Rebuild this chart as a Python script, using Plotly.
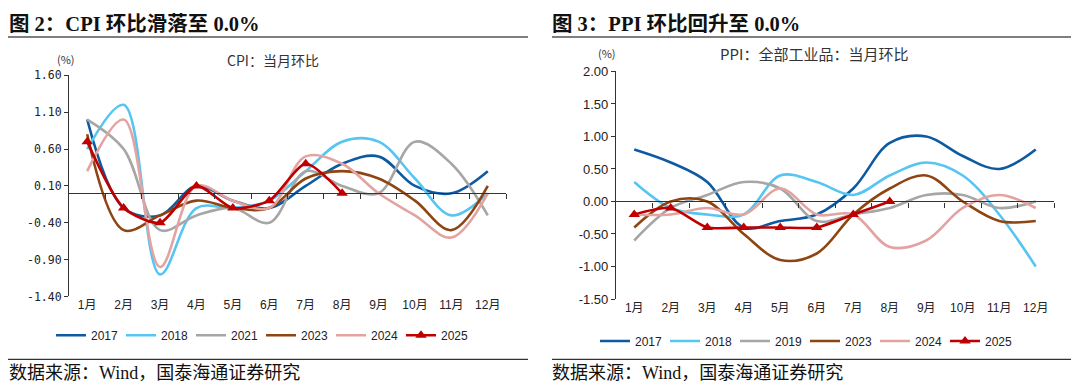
import plotly.graph_objects as go

months = ["1月", "2月", "3月", "4月", "5月", "6月", "7月", "8月", "9月", "10月", "11月", "12月"]

# CPI month-on-month (%)
cpi_2017 = [1.0, -0.2, -0.3, 0.1, -0.1, -0.2, 0.1, 0.4, 0.5, 0.1, 0.0, 0.3]
cpi_2018 = [0.6, 1.2, -1.1, -0.2, -0.2, -0.1, 0.3, 0.7, 0.7, 0.2, -0.3, 0.0]
cpi_2021 = [1.0, 0.6, -0.5, -0.3, -0.2, -0.4, 0.3, 0.1, 0.0, 0.7, 0.4, -0.3]
cpi_2023 = [0.8, -0.5, -0.3, -0.1, -0.2, -0.2, 0.2, 0.3, 0.2, -0.1, -0.5, 0.1]
cpi_2024 = [0.3, 1.0, -1.0, 0.1, -0.1, -0.2, 0.5, 0.4, 0.0, -0.3, -0.6, 0.0]
cpi_2025 = [0.7, -0.2, -0.4, 0.1, -0.2, -0.1, 0.4, 0.0]

# PPI month-on-month (%)
ppi_2017 = [0.8, 0.6, 0.3, -0.4, -0.3, -0.2, 0.2, 0.9, 1.0, 0.7, 0.5, 0.8]
ppi_2018 = [0.3, -0.1, -0.2, -0.2, 0.4, 0.3, 0.1, 0.4, 0.6, 0.4, -0.2, -1.0]
ppi_2019 = [-0.6, -0.1, 0.1, 0.3, 0.2, -0.3, -0.2, -0.1, 0.1, 0.1, -0.1, 0.0]
ppi_2023 = [-0.4, 0.0, 0.0, -0.5, -0.9, -0.8, -0.2, 0.2, 0.4, 0.0, -0.3, -0.3]
ppi_2024 = [-0.2, -0.2, -0.1, -0.2, 0.2, -0.2, -0.2, -0.7, -0.6, -0.1, 0.1, -0.1]
ppi_2025 = [-0.2, -0.1, -0.4, -0.4, -0.4, -0.4, -0.2, 0.0]

cpi_ticks = [-1.4, -0.9, -0.4, 0.1, 0.6, 1.1, 1.6]
cpi_ticktext = ["-1.40", "-0.90", "-0.40", "0.10", "0.60", "1.10", "1.60"]
ppi_ticks = [-1.5, -1.0, -0.5, 0.0, 0.5, 1.0, 1.5, 2.0]
ppi_ticktext = ["-1.50", "-1.00", "-0.50", "0.00", "0.50", "1.00", "1.50", "2.00"]

C17 = "#0D5AA2"
C18 = "#56C5F2"
CGR = "#A6A6A6"
CBR = "#8E4512"
CPK = "#E3A3A1"
CRD = "#C00000"

W, H = 1080, 392
OFF = 8  # page body margin compensation
CJK = "Noto Sans CJK SC"
SANS = "Liberation Sans, Arial, " + CJK
SERIF = "Liberation Serif, Times New Roman, " + CJK

def px_x(x):
    return (x - OFF) / W

def px_y(y):
    return 1 - (y - OFF) / H

# plot domains (screen pixel -> paper)
L_dom_x = [px_x(69), px_x(506)]
L_dom_y = [px_y(300.7), px_y(70.7)]
R_dom_x = [px_x(616), px_x(1054)]
R_dom_y = [px_y(303.3), px_y(66.7)]

L_range = [-1.4, 1.6]
R_range = [-1.5, 2.0]

def zero_pos(dom, rng):
    return dom[0] + (0 - rng[0]) / (rng[1] - rng[0]) * (dom[1] - dom[0])

fig = go.Figure()

def add(x, y, name, color, xa, ya, legend, marker=False):
    kw = dict(
        x=x, y=y, name=name, xaxis=xa, yaxis=ya, legend=legend,
        line=dict(color=color, width=2.6, shape="spline", smoothing=1.0 if not marker else 0.7),
        mode="lines+markers" if marker else "lines",
    )
    if marker:
        kw["marker"] = dict(symbol="triangle-up", size=10, color=color)
    fig.add_trace(go.Scatter(**kw))

add(months, cpi_2017, "2017", C17, "x", "y", "legend")
add(months, cpi_2018, "2018", C18, "x", "y", "legend")
add(months, cpi_2021, "2021", CGR, "x", "y", "legend")
add(months, cpi_2023, "2023", CBR, "x", "y", "legend")
add(months, cpi_2024, "2024", CPK, "x", "y", "legend")
add(months[:len(cpi_2025)], cpi_2025, "2025", CRD, "x", "y", "legend", marker=True)

add(months, ppi_2017, "2017", C17, "x2", "y2", "legend2")
add(months, ppi_2018, "2018", C18, "x2", "y2", "legend2")
add(months, ppi_2019, "2019", CGR, "x2", "y2", "legend2")
add(months, ppi_2023, "2023", CBR, "x2", "y2", "legend2")
add(months, ppi_2024, "2024", CPK, "x2", "y2", "legend2")
add(months[:len(ppi_2025)], ppi_2025, "2025", CRD, "x2", "y2", "legend2", marker=True)

# invisible traces to hold the zero-line axes
fig.add_trace(go.Scatter(x=[0], y=[0], xaxis="x3", yaxis="y", mode="markers",
                         marker=dict(opacity=0), showlegend=False, hoverinfo="skip"))
fig.add_trace(go.Scatter(x=[0], y=[0], xaxis="x4", yaxis="y2", mode="markers",
                         marker=dict(opacity=0), showlegend=False, hoverinfo="skip"))

xcommon = dict(type="category", range=[-0.5, 11.5], showline=False, ticks="",
               showgrid=False, zeroline=False,
               tickfont=dict(family=SANS, size=12, color="#222"))
zero_common = dict(range=[-0.5, 11.5], showline=True, linecolor="#333", linewidth=1.2,
                   ticks="outside", ticklen=5, tickcolor="#333", tickwidth=1,
                   tickvals=[x + 0.5 for x in range(12)], showticklabels=False,
                   showgrid=False, zeroline=False, side="bottom")

legend_common = dict(orientation="h", xanchor="left", yanchor="middle",
                     itemwidth=30, entrywidth=25, entrywidthmode="pixels",
                     tracegroupgap=0, bgcolor="rgba(0,0,0,0)",
                     font=dict(family=SANS, size=12, color="#222"))

fig.update_layout(
    width=W, height=H,
    margin=dict(l=0, r=0, t=0, b=0),
    paper_bgcolor="white", plot_bgcolor="rgba(0,0,0,0)",
    showlegend=True,
    xaxis=dict(domain=L_dom_x, anchor="y", **xcommon),
    yaxis=dict(domain=L_dom_y, anchor="x", range=L_range, tickvals=cpi_ticks,
               ticktext=cpi_ticktext, showline=True, linecolor="#333", linewidth=1.2,
               ticks="outside", ticklen=4, tickcolor="#333", showgrid=False, zeroline=False,
               tickfont=dict(family="DejaVu Sans Mono", size=11.5, color="#222")),
    xaxis2=dict(domain=R_dom_x, anchor="y2", **xcommon),
    yaxis2=dict(domain=R_dom_y, anchor="x2", range=R_range, tickvals=ppi_ticks,
                ticktext=ppi_ticktext, showline=True, linecolor="#333", linewidth=1.2,
                ticks="outside", ticklen=4, tickcolor="#333", showgrid=False, zeroline=False,
                tickfont=dict(family=SANS, size=13, color="#222")),
    xaxis3=dict(domain=L_dom_x, anchor="free", overlaying="x",
                position=zero_pos(L_dom_y, L_range), **zero_common),
    xaxis4=dict(domain=R_dom_x, anchor="free", overlaying="x2",
                position=zero_pos(R_dom_y, R_range), **zero_common),
    legend=dict(x=px_x(51), y=px_y(341), **legend_common),
    legend2=dict(x=px_x(595), y=px_y(347), **legend_common),
)

shapes = [
    dict(type="line", xref="paper", yref="paper", x0=px_x(8), x1=px_x(528), y0=px_y(31), y1=px_y(31),
         line=dict(color="#7F7F7F", width=2)),
    dict(type="line", xref="paper", yref="paper", x0=px_x(552), x1=px_x(1071), y0=px_y(31), y1=px_y(31),
         line=dict(color="#7F7F7F", width=2)),
    dict(type="line", xref="paper", yref="paper", x0=px_x(8), x1=px_x(528), y0=px_y(366), y1=px_y(366),
         line=dict(color="#333333", width=1.3)),
    dict(type="line", xref="paper", yref="paper", x0=px_x(552), x1=px_x(1071), y0=px_y(366), y1=px_y(366),
         line=dict(color="#333333", width=1.3)),
]
fig.update_layout(shapes=shapes)

def ann(text, x, y, size, family, bold=False, xanchor="left", color="#111"):
    if bold:
        text = "<b>" + text + "</b>"
    return dict(text=text, x=px_x(x), y=px_y(y), xref="paper", yref="paper",
                xanchor=xanchor, yanchor="middle", showarrow=False,
                font=dict(size=size, family=family, color=color))

annotations = [
    ann("图 2：CPI 环比滑落至 0.0%", 7, 17, 20.5, SERIF, bold=True),
    ann("图 3：PPI 环比回升至 0.0%", 550, 17, 20.5, SERIF, bold=True),
    ann("(%)", 66, 54, 11, CJK, xanchor="center", color="#333"),
    ann("CPI：当月环比", 273, 55, 14, CJK, xanchor="center", color="#333"),
    ann("(%)", 607, 48, 11, CJK, xanchor="center", color="#333"),
    ann("PPI：全部工业品：当月环比", 814, 48, 15, CJK, xanchor="center", color="#333"),
    ann("数据来源：Wind，国泰海通证券研究", 7, 380, 18, SERIF),
    ann("数据来源：Wind，国泰海通证券研究", 550, 380, 18, SERIF),
]
fig.update_layout(annotations=annotations)

fig.write_html("out.html")
